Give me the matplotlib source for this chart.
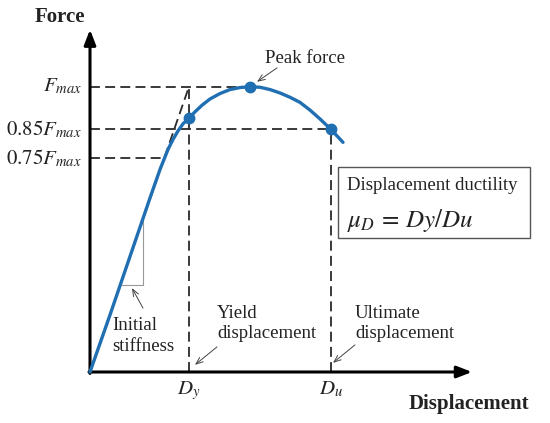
import numpy as np
import matplotlib
matplotlib.use('Agg')
import matplotlib.pyplot as plt
from matplotlib.patches import Rectangle

# force-displacement curve (force normalised by Fmax)
disp = [0, 0.20, 0.40, 0.60, 0.66, 0.70, 0.74, 0.78, 0.83, 0.88, 0.93, 0.99,
        1.05, 1.12, 1.20, 1.30, 1.40, 1.50, 1.60, 1.70, 1.80, 1.90, 2.00,
        2.10, 2.20, 2.30, 2.41, 2.53]
force = [0, 0.20, 0.405, 0.61, 0.67, 0.71, 0.745, 0.78, 0.815, 0.845, 0.87, 0.89,
         0.912, 0.935, 0.957, 0.976, 0.99, 0.997, 1.0, 0.998, 0.99, 0.978, 0.963,
         0.945, 0.918, 0.887, 0.85, 0.805]

f_max = 1.0
f_85 = 0.85
f_75 = 0.75
d_y = 0.99
d_peak = 1.60
d_u = 2.41
d_75 = 0.74
f_y_point = 0.89

# key points marked on the curve
pt_x = [d_y, d_peak, d_u]
pt_y = [f_y_point, f_max, f_85]

# initial stiffness triangle
tri_x = [0.32, 0.53, 0.53]
tri_y = [0.305, 0.305, 0.54]

plt.rcParams['font.family'] = ['Liberation Serif', 'DejaVu Serif']
plt.rcParams['mathtext.fontset'] = 'stix'

BLUE = '#1f6fb2'
DASH = '#2a2a2a'
TXT = '#222222'

fig = plt.figure(figsize=(5.5, 4.23), dpi=100)
ax = fig.add_axes([0, 0, 1, 1])
ax.set_xlim(-0.90, 4.60)
ax.set_ylim(-0.1788, 1.3039)
ax.axis('off')

# axes with arrows
ax.annotate('', xy=(0, 1.20), xytext=(0, -0.005),
            arrowprops=dict(arrowstyle='-|>,head_length=0.9,head_width=0.35',
                            color='black', lw=2.2, shrinkA=0, shrinkB=0))
ax.annotate('', xy=(3.82, 0), xytext=(-0.01, 0),
            arrowprops=dict(arrowstyle='-|>,head_length=0.9,head_width=0.35',
                            color='black', lw=2.2, shrinkA=0, shrinkB=0))

dkw = dict(color=DASH, lw=1.3, dashes=(5.5, 2.9))
ax.plot([0, d_peak], [f_max, f_max], **dkw)
ax.plot([0, d_u], [f_85, f_85], **dkw)
ax.plot([0, d_75], [f_75, f_75], **dkw)
ax.plot([d_y, d_y], [0, f_max], **dkw)
ax.plot([d_u, d_u], [0, f_85], **dkw)
ax.plot([0, d_y], [0, f_max], **dkw)

# stiffness triangle
ax.plot(tri_x, tri_y, color='#999999', lw=0.8)

ax.plot(disp, force, color=BLUE, lw=2.4, solid_capstyle='round',
        solid_joinstyle='round', zorder=3)
ax.plot(pt_x, pt_y, 'o', color=BLUE, ms=7.5, zorder=4)

# labels
ax.text(-0.30, 1.243, 'Force', fontsize=15, fontweight='bold', ha='center', va='center', color=TXT)
ax.text(3.79, -0.112, 'Displacement', fontsize=15, fontweight='bold', ha='center', va='center', color=TXT)
ax.text(-0.08, f_max, r'$F_{max}$', fontsize=15, ha='right', va='center', color=TXT)
ax.text(-0.08, f_85, r'$0.85F_{max}$', fontsize=15, ha='right', va='center', color=TXT)
ax.text(-0.08, f_75, r'$0.75F_{max}$', fontsize=15, ha='right', va='center', color=TXT)
ax.text(d_y, -0.066, r'$D_y$', fontsize=15, ha='center', va='center', color=TXT)
ax.text(d_u, -0.060, r'$D_u$', fontsize=15, ha='center', va='center', color=TXT)

akw = dict(arrowstyle='->,head_length=0.5,head_width=0.2', color='#444444', lw=0.7,
           shrinkA=0, shrinkB=0)
ax.text(2.15, 1.10, 'Peak force', fontsize=13.5, ha='center', va='center', color=TXT)
ax.annotate('', xy=(1.67, 1.017), xytext=(1.87, 1.066), arrowprops=akw)

ax.text(0.22, 0.126, 'Initial\nstiffness', fontsize=13.5, ha='left', va='center',
        color=TXT, linespacing=1.3)
ax.annotate('', xy=(0.42, 0.294), xytext=(0.53, 0.224), arrowprops=akw)

ax.text(1.27, 0.17, 'Yield\ndisplacement', fontsize=13.5, ha='left', va='center',
        color=TXT, linespacing=1.3)
ax.annotate('', xy=(1.05, 0.025), xytext=(1.27, 0.088), arrowprops=akw)

ax.text(2.65, 0.17, 'Ultimate\ndisplacement', fontsize=13.5, ha='left', va='center',
        color=TXT, linespacing=1.3)
ax.annotate('', xy=(2.43, 0.032), xytext=(2.65, 0.095), arrowprops=akw)

# ductility box
ax.add_patch(Rectangle((2.48, 0.470), 1.92, 0.249, fill=False, edgecolor='#555555', lw=1.0))
ax.text(2.57, 0.655, 'Displacement ductility', fontsize=13.5, ha='left', va='center', color=TXT)
ax.text(2.57, 0.530, r'$\mu_D\, =\, Dy/Du$', fontsize=18, ha='left', va='center', color=TXT)

fig.savefig('out.png', dpi=100)
plt.close(fig)
